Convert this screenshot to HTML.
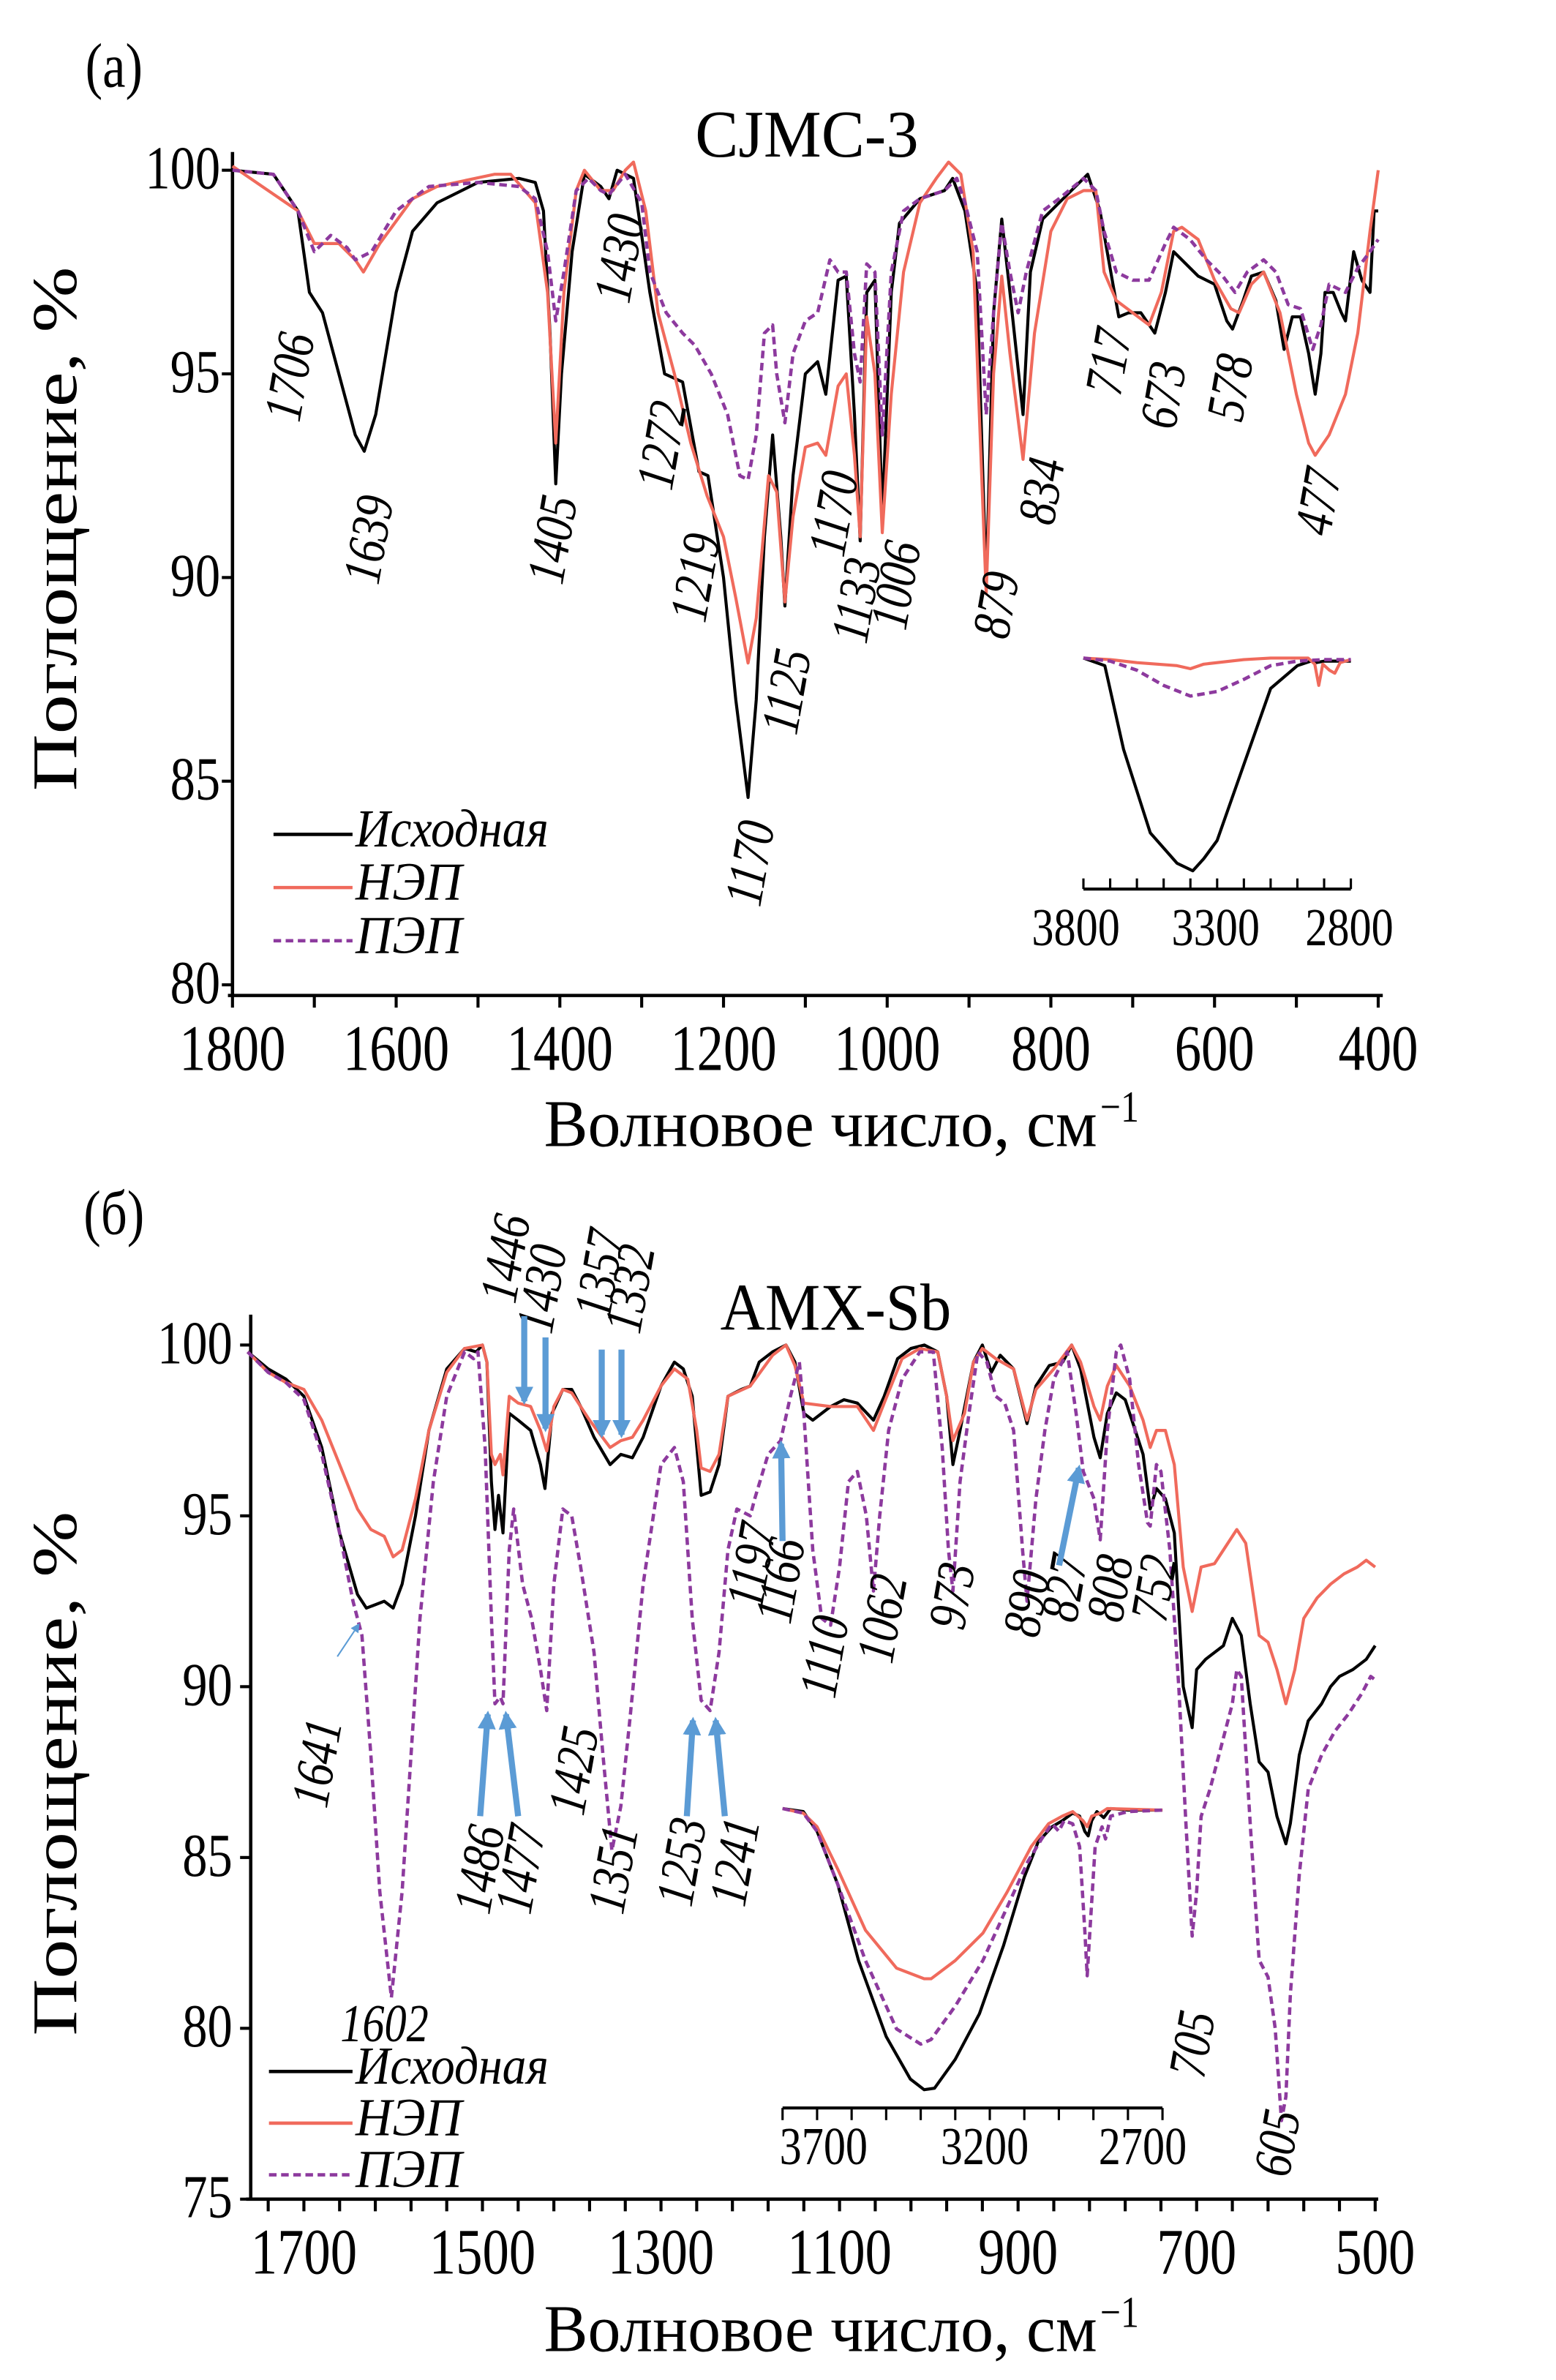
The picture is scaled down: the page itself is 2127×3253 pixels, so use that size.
<!DOCTYPE html>
<html><head><meta charset="utf-8"><style>
html,body{margin:0;padding:0;background:#fff}
svg{display:block}
text{font-family:"Liberation Serif",serif;fill:#000}
.it{font-style:italic}
</style></head><body>
<svg id="fig" width="2127" height="3253" viewBox="0 0 1024 1566" preserveAspectRatio="none" xmlns="http://www.w3.org/2000/svg">
<g id="gA"></g>
<g id="gB"></g>
<defs><marker id="ah" viewBox="0 0 10 10" refX="8" refY="5" markerWidth="3" markerHeight="3" orient="auto"><path d="M0,0L10,5L0,10z" fill="#5b9bd5"/></marker>
<marker id="ah2" viewBox="0 0 10 10" refX="8" refY="5" markerWidth="6" markerHeight="6" orient="auto"><path d="M0,0L10,5L0,10z" fill="#5b9bd5"/></marker></defs>
</svg>
<script>
// ===== Panel (a) data: CJMC-3 =====
const aBlackWn=[1800,1750,1720,1706,1690,1670,1650,1639,1625,1600,1580,1550,1500,1450,1430,1420,1412,1405,1398,1385,1370,1350,1340,1330,1310,1290,1272,1250,1230,1219,1200,1185,1170,1160,1150,1140,1130,1125,1115,1100,1085,1075,1060,1050,1040,1033,1025,1015,1006,995,985,960,930,920,905,890,879,870,860,850,834,825,810,790,770,755,740,725,717,705,690,673,660,650,640,620,600,585,578,565,555,540,525,515,505,495,485,477,470,465,455,445,440,430,420,410,405,400];
const aBlackV=[100,99.9,99,97,96.5,95,93.5,93.1,94,97,98.5,99.2,99.7,99.8,99.7,99,96,92.3,95,98,99.9,99.6,99.3,100,99.8,97,95,94.8,92.6,92.5,90,87,84.6,87,91,93.5,91,89.3,92.5,95,95.3,94.5,97.3,97.4,94,90.9,97,97.3,91.5,97,98.7,99.3,99.5,99.8,99,97,89.8,96.5,98.8,97,94,97.5,98.8,99.2,99.6,99.9,99,97.3,96.4,96.5,96.5,96,97,98,97.8,97.4,97.2,96.3,96.1,96.8,97.4,97.5,96.8,95.6,96.4,96.4,95.5,94.5,95.5,97,97,96.5,96.3,98,97.3,97,99,99];
const aRedWn=[1800,1720,1700,1670,1650,1640,1620,1580,1550,1480,1460,1430,1415,1405,1395,1380,1370,1350,1335,1320,1310,1295,1280,1260,1240,1220,1200,1185,1170,1160,1145,1135,1125,1115,1100,1085,1075,1060,1050,1040,1033,1025,1015,1006,995,980,960,940,925,910,895,879,870,860,850,834,820,800,780,760,745,735,720,700,680,665,650,640,620,600,580,570,555,540,520,500,485,477,460,440,425,410,400];
const aRedV=[100.1,99,98.2,98.2,97.8,97.5,98.2,99.3,99.6,99.9,99.9,99.2,97,93.3,97,99.5,100,99.5,99.5,100,100.2,99,96.5,95,93.3,92,91,89.5,87.9,89,92.5,92.1,89.4,91.5,93.2,93.3,93,94.7,95,93,91,96.4,95,91.1,94.5,97.5,99.2,99.8,100.2,99.9,98,89.6,95,97.4,95.5,92.9,96,98.5,99.3,99.5,99.5,97.5,96.8,96.5,96.2,97,98.5,98.6,98.3,97.3,96.6,96.5,97.2,97.5,96.5,94.5,93.3,93,93.5,94.5,96,98.5,100];
const aDashWn=[1800,1750,1720,1700,1680,1660,1650,1630,1600,1560,1500,1450,1430,1415,1405,1395,1380,1365,1350,1340,1320,1300,1290,1270,1250,1235,1215,1195,1180,1170,1160,1150,1140,1135,1125,1115,1100,1085,1070,1060,1050,1040,1033,1025,1015,1006,995,980,960,930,915,905,890,879,870,860,850,840,830,810,790,760,745,735,720,700,680,660,650,630,610,590,575,560,540,525,510,495,480,470,460,440,425,410,400];
const aDashV=[100,99.9,99,98,98.4,98.1,97.8,98,99,99.6,99.7,99.6,99.3,98,96.3,97.5,99.5,99.8,99.5,99.4,99.9,99.2,97.5,96.5,96,95.7,95,94,92.5,92.4,93.5,96,96.2,95,93.8,95.5,96.3,96.5,97.8,97.5,97.5,95.5,94.8,97.7,97.5,93.5,97.5,99,99.3,99.5,99.8,99.2,98,94,96.5,98.7,97.5,96.5,97.5,99,99.3,99.8,99.5,98.5,97.5,97.3,97.3,98.2,98.6,98.3,97.8,97.4,97,97.5,97.8,97.5,96.7,96.6,95.6,96.2,97.2,97,97.6,98,98.3];
// inset (a): 3800-2800, depth in inset units
const iaBlackWn=[3800,3720,3650,3550,3450,3391,3350,3300,3200,3100,3000,2950,2930,2900,2800];
const iaBlackD=[0,-5,-60,-115,-135,-140,-132,-120,-70,-20,-5,-2,-3,-2,-2];
const iaRedWn=[3800,3700,3600,3450,3400,3350,3200,3100,2960,2935,2920,2905,2880,2860,2840,2800];
const iaRedD=[0,-1,-3,-5,-7,-4,-1,0,0,-4,-18,-4,-8,-10,-3,-1];
const iaDashWn=[3800,3700,3600,3500,3400,3300,3200,3100,3000,2900,2800];
const iaDashD=[0,-2,-8,-18,-25,-22,-14,-5,-2,-1,-1];
// ===== Panel (б) data: AMX-Sb =====
const bBlackWn=[1763,1740,1720,1700,1680,1660,1640,1630,1620,1610,1600,1590,1575,1560,1540,1520,1507,1500,1495,1490,1486,1482,1477,1470,1460,1446,1435,1430,1422,1410,1400,1390,1375,1357,1345,1332,1320,1300,1285,1275,1265,1255,1245,1235,1225,1210,1200,1190,1175,1160,1150,1140,1130,1110,1095,1080,1062,1050,1035,1020,1005,990,980,973,965,950,940,930,920,905,890,880,865,850,840,830,815,808,800,790,780,770,760,752,745,735,725,715,705,700,690,680,670,660,650,640,630,620,610,600,595,585,575,560,550,540,525,510,500];
const bBlackV=[99.8,99.3,99,98.5,97,94.5,92.7,92.3,92.4,92.5,92.3,93,95,97.5,99.3,99.9,99.8,100,99.5,96,94.6,95.6,94.5,98,97.8,97.5,96.5,95.8,98,98.7,98.7,98.2,97.3,96.5,96.8,96.7,97.3,98.8,99.5,99.3,98.5,95.6,95.7,96.5,98.5,98.7,98.8,99.5,99.8,100,99.5,98,97.8,98.2,98.4,98.3,97.8,98.5,99.6,99.9,100,99.8,98.5,96.5,97.5,99.5,100,99.2,99.7,99.3,97.7,98.8,99.4,99.5,100,99.3,97.3,96.7,98,98.6,98.4,97.6,96.8,95.2,95.8,95.5,94.5,90,88.8,90.5,90.8,91,91.2,92,91.5,89.5,87.8,87.5,86.2,85.4,86,88,89,89.5,90,90.3,90.5,90.8,91.2];
const bRedWn=[1763,1740,1720,1700,1680,1660,1640,1625,1610,1600,1590,1575,1560,1540,1520,1500,1495,1490,1486,1480,1477,1470,1460,1446,1435,1428,1420,1410,1400,1380,1357,1345,1332,1320,1300,1285,1270,1260,1255,1245,1235,1225,1200,1175,1160,1150,1140,1110,1080,1062,1050,1030,1010,990,980,973,960,950,940,925,905,890,880,860,840,830,815,808,800,790,775,760,752,745,735,725,715,705,695,680,670,655,645,630,620,610,600,590,580,565,550,535,520,510,500];
const bRedV=[99.8,99.2,98.9,98.7,97.8,96.5,95.2,94.6,94.4,93.8,94,95.5,97.5,99.2,99.9,100,99.5,96.8,96.5,96.8,96.2,98.5,98.3,98.2,97.5,96.9,98.2,98.7,98.6,97.8,97,97.2,97.3,97.8,98.8,99.3,99,97.5,96.4,96.3,96.8,98.5,98.8,99.7,100,99.4,98.3,98.2,98.2,97.5,98.3,99.6,99.9,99.8,98.5,97.2,98,99.5,99.9,99.6,99.3,97.8,98.7,99.3,100,99.5,98.2,97.8,98.8,99.4,98.8,97.8,97,97.5,97.5,96.5,93.5,92.2,93.5,93.6,94,94.6,94.2,91.5,91.3,90.5,89.5,90.5,92,92.6,93,93.3,93.5,93.7,93.5];
const bDashWn=[1763,1740,1720,1700,1680,1660,1645,1635,1625,1615,1602,1590,1580,1570,1555,1540,1520,1510,1505,1497,1490,1486,1480,1477,1470,1465,1455,1445,1435,1428,1420,1410,1400,1390,1375,1365,1355,1345,1335,1320,1300,1285,1275,1265,1255,1245,1235,1225,1215,1200,1195,1180,1166,1155,1145,1140,1130,1120,1110,1100,1090,1080,1070,1062,1055,1045,1030,1010,995,985,978,973,965,955,945,935,925,915,905,895,890,880,870,860,845,835,827,815,808,800,790,785,775,765,755,752,745,740,730,720,712,705,700,695,685,675,660,655,650,640,630,620,612,605,600,595,585,575,560,545,530,515,505,500];
const bDashV=[99.8,99.2,98.9,98.4,96.8,94.5,92.5,91.5,88,84,80.9,84,88,92,96,98.5,99.8,99.6,99.8,97,92,89.5,89.7,89.5,94,95.2,93,92,90.5,89.3,93,95.2,95,93.5,91,88,85.2,86.5,89,93,96.5,97,96,92,89.6,89.3,91,94,95.2,95,95.5,96.8,97.2,98.5,99.5,98,94,92,91.8,93.5,96,96.3,95,92.8,95,97.5,99,99.8,99.8,97,94,92.8,96,98,99.8,99.5,98.5,98.3,97.5,94,92.5,95.5,97.5,99,99.8,98,96.3,95.5,94.3,97.5,99.8,100,99,96.5,94.8,94.7,96.5,96.3,94,90,86,82.7,84,86.2,87,88,89.5,90.5,90.3,86,82,81.5,80,77.3,78,81,84.5,87,88,88.7,89.2,89.8,90.3,90.2];
// inset (б): 3800-2700
const ibBlackWn=[3800,3740,3700,3640,3580,3500,3430,3390,3360,3300,3230,3160,3100,3060,3020,2990,2960,2940,2925,2915,2905,2890,2870,2850,2800,2700];
const ibBlackD=[0,-2,-15,-50,-100,-150,-178,-185,-184,-165,-135,-90,-45,-22,-12,-8,-3,-5,-15,-18,-8,-2,-6,0,-1,-1];
const ibRedWn=[3800,3740,3700,3640,3560,3470,3390,3370,3300,3220,3150,3080,3030,2990,2960,2930,2918,2905,2880,2860,2700];
const ibRedD=[0,-3,-12,-40,-80,-105,-112,-112,-100,-82,-55,-25,-10,-5,-2,-8,-12,-5,-3,0,-1];
const ibDashWn=[3800,3740,3700,3640,3560,3470,3400,3370,3300,3220,3150,3090,3050,3020,3000,2985,2960,2940,2925,2918,2910,2895,2875,2865,2850,2800,2700];
const ibDashD=[0,-3,-15,-50,-100,-145,-155,-152,-130,-100,-65,-35,-20,-10,-15,-8,-10,-25,-80,-110,-80,-25,-12,-20,-5,-2,-1];

// axis functions
const xA=w=>153+(1800-w)/1400*754, yA=v=>112+(100-v)*26.8;
const xB=w=>200+(1700-w)*117.5/200, yB=v=>885+(100-v)*22.48;
const xIa=w=>713+(3800-w)*0.176, yIa=d=>433-d;
const xIb=w=>515+(3800-w)*0.2273, yIb=d=>1190-d;

const NS='http://www.w3.org/2000/svg';
function mk(tag,attrs,parent){const e=document.createElementNS(NS,tag);for(const k in attrs)e.setAttribute(k,attrs[k]);parent.appendChild(e);return e;}
const RED='#f06a5c', PUR='#8d3a9e';
function series(parent,wn,vals,fx,fy,color,dash,name){
  let d='';wn.forEach((w,i)=>{d+=(i?'L':'M')+fx(w).toFixed(2)+','+fy(vals[i]).toFixed(2);});
  const p=mk('path',{d:d,fill:'none',stroke:color,'stroke-width':dash?2.2:2,'stroke-dasharray':dash?'5,3':'none','stroke-linejoin':'round'},parent);
  
  
}
function txt(parent,x,y,s,size,opts){opts=opts||{};
  const sy=opts.sy||1.22;
  const t=mk('text',{x:0,y:0,'font-size':size,'text-anchor':opts.anchor||'middle'},parent);
  if(opts.it)t.setAttribute('class','it');
  if(opts.len){t.setAttribute('textLength',opts.len);t.setAttribute('lengthAdjust','spacingAndGlyphs');}
  const r=opts.rot!==undefined?' rotate('+opts.rot+')':'';
  t.setAttribute('transform','translate('+x+' '+y+')'+r+' scale(1 '+sy+')');
  t.textContent=s;
  
  
  return t;}
function line(parent,x1,y1,x2,y2,w,name){const l=mk('line',{x1:x1,y1:y1,x2:x2,y2:y2,stroke:'#000','stroke-width':w||2},parent);
  
  }

// ---------- Panel A ----------
const gA=document.getElementById('gA');
txt(gA,75,57,'(a)',34,{name:'panel-a-letter'});
txt(gA,531,103,'CJMC-3',36,{len:147,name:'panel-a-title'});
line(gA,153,100,153,655,2.2,'y-axis-a');
line(gA,150,655,910,655,2.2,'x-axis-a');
[80,85,90,95,100].forEach(v=>{line(gA,146,yA(v),153,yA(v),2,'y-tick-a');txt(gA,145,yA(v)+12,String(v),33,{anchor:'end',name:'y-tick-label-a'});});
for(let w=1800;w>=400;w-=100){line(gA,xA(w),655,xA(w),663,2,'x-tick-a');}
[1800,1600,1400,1200,1000,800,600,400].forEach(w=>txt(gA,xA(w),704,String(w),35,{name:'x-tick-label-a'}));
txt(gA,358,754,'Волновое число, см',36,{anchor:'start',len:364,name:'x-axis-title-a'});
txt(gA,724,738,'−1',24,{anchor:'start',name:'x-axis-title-a-sup'});
txt(gA,50,348,'Поглощение, %',38,{rot:-90,len:345,sy:1.1,name:'y-axis-title-a'});
series(gA,aBlackWn,aBlackV,xA,yA,'#000',false,'series-a-ishodnaya');
series(gA,aRedWn,aRedV,xA,yA,RED,false,'series-a-nep');
series(gA,aDashWn,aDashV,xA,yA,PUR,true,'series-a-pep');
// inset a
line(gA,713,585,889,585,2,'inset-a-axis');
for(let w=3800;w>=2800;w-=100){line(gA,xIa(w),585,xIa(w),578,1.5,'inset-a-tick');}
txt(gA,708,622,'3800',29,{name:'inset-a-label'});txt(gA,800,622,'3300',29,{name:'inset-a-label'});txt(gA,888,622,'2800',29,{name:'inset-a-label'});
series(gA,iaBlackWn,iaBlackD,xIa,yIa,'#000',false,'inset-a-ishodnaya');
series(gA,iaRedWn,iaRedD,xIa,yIa,RED,false,'inset-a-nep');
series(gA,iaDashWn,iaDashD,xIa,yIa,PUR,true,'inset-a-pep');
// legend a
[['Исходная','#000',false,557,127],['НЭП',RED,false,592,70],['ПЭП',PUR,true,627,70]].forEach(([s,c,dsh,y,len])=>{
  const l=mk('line',{x1:180,y1:y-8,x2:232,y2:y-8,stroke:c,'stroke-width':2.2,'stroke-dasharray':dsh?'5,3':'none'},gA);
  
  
  txt(gA,234,y,s,29,{anchor:'start',it:true,len:len,name:'legend-entry'});});
// peak labels a
[['1706',202,250],['1639',254,357],['1405',375,357],['1430',419,172],['1272',447,295],['1219',469,382],['1170',505,570],['1125',529,457],['1170',560,340],['1133',575,397],['1006',601,387],['879',667,400],['834',697,325],['717',741,240],['673',777,262],['578',821,257],['477',879,332]].forEach(([s,x,y])=>txt(gA,x,y,s,29,{it:true,rot:-80,name:'peak-label-'+s}));

// ---------- Panel B ----------
const gB=document.getElementById('gB');
txt(gB,75,812,'(б)',34,{name:'panel-b-letter'});
txt(gB,550,875,'AMX-Sb',36,{len:152,name:'panel-b-title'});
line(gB,165,865,165,1447,2.2,'y-axis-b');
line(gB,162,1447,907,1447,2.2,'x-axis-b');
[75,80,85,90,95,100].forEach(v=>{line(gB,158,yB(v),165,yB(v),2,'y-tick-b');txt(gB,153,yB(v)+12,String(v),33,{anchor:'end',name:'y-tick-label-b'});});
for(let w=1740;w>=500;w-=40){line(gB,xB(w),1447,xB(w),1455,2,'x-tick-b');}
[1700,1500,1300,1100,900,700,500].forEach(w=>txt(gB,xB(w),1496,String(w),35,{name:'x-tick-label-b'}));
txt(gB,358,1547,'Волновое число, см',36,{anchor:'start',len:364,name:'x-axis-title-b'});
txt(gB,724,1531,'−1',24,{anchor:'start',name:'x-axis-title-b-sup'});
txt(gB,50,1167,'Поглощение, %',38,{rot:-90,len:345,sy:1.1,name:'y-axis-title-b'});
series(gB,bBlackWn,bBlackV,xB,yB,'#000',false,'series-b-ishodnaya');
series(gB,bRedWn,bRedV,xB,yB,RED,false,'series-b-nep');
series(gB,bDashWn,bDashV,xB,yB,PUR,true,'series-b-pep');
// inset b
line(gB,515,1387,765,1387,2,'inset-b-axis');
for(let w=3800;w>=2700;w-=100){line(gB,xIb(w),1387,xIb(w),1395,1.5,'inset-b-tick');}
txt(gB,542,1424,'3700',29,{name:'inset-b-label'});txt(gB,648,1424,'3200',29,{name:'inset-b-label'});txt(gB,752,1424,'2700',29,{name:'inset-b-label'});
series(gB,ibBlackWn,ibBlackD,xIb,yIb,'#000',false,'inset-b-ishodnaya');
series(gB,ibRedWn,ibRedD,xIb,yIb,RED,false,'inset-b-nep');
series(gB,ibDashWn,ibDashD,xIb,yIb,PUR,true,'inset-b-pep');
// legend b
[['Исходная','#000',false,1371,127],['НЭП',RED,false,1405,70],['ПЭП',PUR,true,1439,70]].forEach(([s,c,dsh,y,len])=>{
  const l=mk('line',{x1:177,y1:y-8,x2:232,y2:y-8,stroke:c,'stroke-width':2.2,'stroke-dasharray':dsh?'5,3':'none'},gB);
  
  
  txt(gB,234,y,s,29,{anchor:'start',it:true,len:len,name:'legend-entry'});});
// peak labels b
[['1446',344,830],['1430',368,850],['1357',406,840],['1332',426,850],['1641',220,1162],['1486',327,1232],['1477',354,1232],['1425',389,1167],['1351',415,1232],['1253',460,1227],['1241',495,1227],['1197',506,1032],['1166',525,1042],['1110',554,1092],['1062',592,1067],['973',638,1052],['890',687,1057],['827',712,1047],['808',742,1047],['752',771,1047],['705',796,1347],['605',852,1412]].forEach(([s,x,y])=>txt(gB,x,y,s,29,{it:true,rot:-80,name:'peak-label-'+s}));
txt(gB,253,1343,'1602',29,{it:true,name:'peak-label-1602'});
// arrows
[[345,866,345,922],[359,880,359,940],[396,888,396,944],[409,888,409,944],[316,1195,321,1128],[341,1195,333,1128],[452,1195,456,1132],[477,1195,471,1132],[515,1014,514,950],[697,1030,710,966]].forEach(([x1,y1,x2,y2])=>{
  const a=mk('line',{x1:x1,y1:y1,x2:x2,y2:y2,stroke:'#5b9bd5','stroke-width':4,'marker-end':'url(#ah)'},gB);
  
  });
const ta=mk('line',{x1:222,y1:1090,x2:236,y2:1069,stroke:'#5b9bd5','stroke-width':1,'marker-end':'url(#ah2)'},gB);


</script>
</body></html>
